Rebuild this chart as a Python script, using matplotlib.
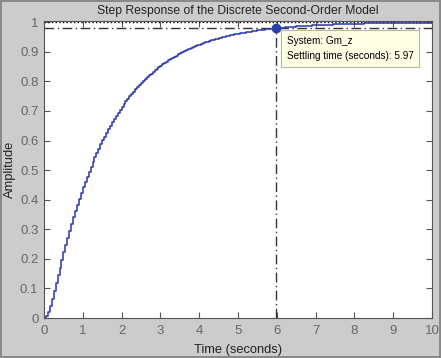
import numpy as np
import matplotlib.pyplot as plt

# step response samples of Gm_z (sample time 0.05 s)
ts = 0.05
amplitude = [
    0.0000, 0.0060, 0.0209, 0.0414, 0.0651, 0.0907, 0.1172, 0.1440, 0.1706, 0.1968,
    0.2225, 0.2476, 0.2720, 0.2957, 0.3186, 0.3409, 0.3624, 0.3833, 0.4035, 0.4230,
    0.4419, 0.4602, 0.4779, 0.4950, 0.5116, 0.5276, 0.5431, 0.5581, 0.5726, 0.5866,
    0.6001, 0.6132, 0.6259, 0.6382, 0.6500, 0.6615, 0.6726, 0.6834, 0.6937, 0.7038,
    0.7135, 0.7229, 0.7320, 0.7407, 0.7492, 0.7575, 0.7654, 0.7731, 0.7805, 0.7877,
    0.7947, 0.8014, 0.8079, 0.8142, 0.8203, 0.8262, 0.8319, 0.8374, 0.8428, 0.8479,
    0.8529, 0.8577, 0.8624, 0.8669, 0.8713, 0.8755, 0.8796, 0.8835, 0.8873, 0.8910,
    0.8946, 0.8981, 0.9014, 0.9046, 0.9078, 0.9108, 0.9137, 0.9165, 0.9193, 0.9219,
    0.9245, 0.9270, 0.9293, 0.9317, 0.9339, 0.9361, 0.9382, 0.9402, 0.9422, 0.9440,
    0.9459, 0.9477, 0.9494, 0.9510, 0.9526, 0.9542, 0.9557, 0.9571, 0.9586, 0.9599,
    0.9612, 0.9625, 0.9637, 0.9649, 0.9661, 0.9672, 0.9683, 0.9693, 0.9703, 0.9713,
    0.9722, 0.9731, 0.9740, 0.9749, 0.9757, 0.9765, 0.9773, 0.9780, 0.9787, 0.9794,
    0.9801, 0.9807, 0.9814, 0.9820, 0.9826, 0.9831, 0.9837, 0.9842, 0.9848, 0.9853,
    0.9857, 0.9862, 0.9867, 0.9871, 0.9875, 0.9879, 0.9883, 0.9887, 0.9891, 0.9894,
    0.9898, 0.9901, 0.9904, 0.9908, 0.9911, 0.9913, 0.9916, 0.9919, 0.9922, 0.9924,
    0.9927, 0.9929, 0.9931, 0.9934, 0.9936, 0.9938, 0.9940, 0.9942, 0.9944, 0.9946,
    0.9948, 0.9949, 0.9951, 0.9953, 0.9954, 0.9956, 0.9957, 0.9958, 0.9960, 0.9961,
    0.9962, 0.9964, 0.9965, 0.9966, 0.9967, 0.9968, 0.9969, 0.9970, 0.9971, 0.9972,
    0.9973, 0.9974, 0.9975, 0.9976, 0.9976, 0.9977, 0.9978, 0.9979, 0.9979, 0.9980,
    0.9981, 0.9981, 0.9982, 0.9983, 0.9983, 0.9984, 0.9984, 0.9985, 0.9985, 0.9986,
    0.9986,
]
time = np.arange(len(amplitude)) * ts

final_value = 1.0
settle_band = 0.98
settle_time = 5.97
x_ticks = [0, 1, 2, 3, 4, 5, 6, 7, 8, 9, 10]
y_ticks = [0, 0.1, 0.2, 0.3, 0.4, 0.5, 0.6, 0.7, 0.8, 0.9, 1]
y_labels = ['0', '0.1', '0.2', '0.3', '0.4', '0.5', '0.6', '0.7', '0.8', '0.9', '1']

plt.rcParams['font.family'] = ['Liberation Sans', 'DejaVu Sans']

fig = plt.figure(figsize=(4.41, 3.58), dpi=100, facecolor='#cccccc',
                 edgecolor='#8a8a8a', linewidth=1.5)
ax = fig.add_axes([0.0998, 0.1117, 0.8798, 0.8296])
ax.set_facecolor('white')

# reference lines: final value, settling band, settling time
ax.axhline(final_value, color='black', linestyle=':', linewidth=1.0)
ax.axhline(settle_band, color='#333333', linestyle=(0, (7, 2.5, 1, 2.5)), linewidth=1.0)
ax.plot([settle_time, settle_time], [0, settle_band], color='#333333',
        linestyle=(0, (7, 2.5, 1, 2.5)), linewidth=1.0)

ax.step(time, amplitude, where='post', color='#2a35a8', linewidth=1.1)
ax.plot(settle_time, settle_band, 'o', color='#2a3fa8', markersize=6)

ax.text(settle_time + 0.28, 0.955, 'System: Gm_z\nSettling time (seconds): 5.97',
        fontsize=7.2, va='top', ha='left', linespacing=1.65,
        bbox=dict(boxstyle='square,pad=0.6', facecolor='#ffffe6',
                  edgecolor='#b8b8a0', linewidth=0.8))

ax.set_xlim(0, 10)
ax.set_ylim(0, 1.004)
ax.set_xticks(x_ticks)
ax.set_yticks(y_ticks)
ax.set_yticklabels(y_labels)
ax.tick_params(direction='in', top=True, right=True, length=4, width=0.8,
               colors='#555555', labelcolor='#666666', labelsize=9.5)
ax.tick_params(axis='x', pad=5)
ax.tick_params(axis='y', pad=4)
for s in ax.spines.values():
    s.set_color('#555555')
    s.set_linewidth(0.8)

ax.set_title('Step Response of the Discrete Second-Order Model', fontsize=8.7,
             color='#222222', pad=5)
ax.set_xlabel('Time (seconds)', fontsize=9.3, color='#222222')
ax.set_ylabel('Amplitude', fontsize=9.3, color='#222222')
ax.xaxis.set_label_coords(0.5, -0.086)
ax.yaxis.set_label_coords(-0.072, 0.5)

fig.savefig('out.png', dpi=100, facecolor=fig.get_facecolor(),
            edgecolor=fig.get_edgecolor())
